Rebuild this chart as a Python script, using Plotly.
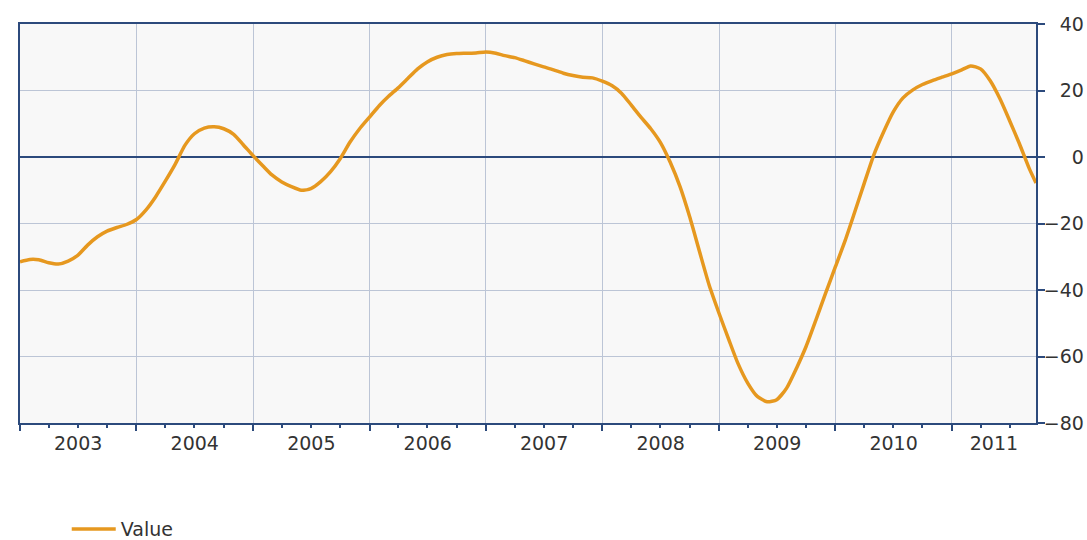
import plotly.graph_objects as go
import pandas as pd

# ---- data (monthly) ----
start_month = "2003-01-01"
values = [
    # 2003
    -31.5, -30.8, -30.9, -31.8, -32.2, -31.3, -29.6, -26.5, -24.0, -22.3, -21.2, -20.3,
    # 2004
    -18.8, -15.8, -12.0, -7.2, -2.3, 3.5, 7.0, 8.7, 9.1, 8.5, 6.8, 3.7,
    # 2005
    0.4, -2.7, -5.4, -7.5, -8.9, -10.0, -9.5, -7.4, -4.4, -0.5, 4.5, 8.5,
    # 2006
    12.0, 15.5, 18.2, 20.8, 23.6, 26.5, 28.6, 30.0, 30.8, 31.1, 31.2, 31.3,
    # 2007
    31.6, 31.2, 30.5, 29.9, 29.0, 28.0, 27.1, 26.2, 25.2, 24.5, 24.0, 23.8,
    # 2008
    22.8, 21.4, 19.2, 15.6, 12.0, 8.5, 4.4, -1.6, -9.0, -18.0, -28.5, -38.5,
    # 2009
    -47.0, -55.0, -62.0, -68.0, -72.0, -73.6, -73.0, -69.5, -63.5, -57.0, -49.0, -41.0,
    # 2010
    -33.0, -25.0, -17.0, -8.0, 0.5, 7.5, 13.5, 17.8, 20.2, 21.8, 23.0, 24.0,
    # 2011
    25.0, 26.2, 27.4, 26.5, 23.0, 17.5, 11.0, 4.0, -3.5,
]
last_date = "2011-09-22"
last_value = -7.8

years = ["2003", "2004", "2005", "2006", "2007", "2008", "2009", "2010", "2011"]
y_ticks = [-80, -60, -40, -20, 0, 20, 40]

dates = list(pd.date_range(start_month, periods=len(values), freq="MS")) + [pd.Timestamp(last_date)]
vals = values + [last_value]

# ---- styling ----
NAVY = "#2c4a7c"
GRID = "#bcc5d6"
ORANGE = "#e6981f"
TXT = "#333333"
FONT = "DejaVu Sans"

x_start = pd.Timestamp(start_month)
x_end = pd.Timestamp(last_date)

# year label positions: middle of each year's visible span
label_pos = []
for y in years:
    a = max(pd.Timestamp(f"{y}-01-01"), x_start)
    b = min(pd.Timestamp(f"{int(y)+1}-01-01"), x_end)
    label_pos.append(a + (b - a) / 2)

# right-aligned y tick text (pad with figure/thin spaces to match minus width)
def pad(v):
    s = str(abs(v))
    if v < 0:
        return "\u2212" + s
    digits_missing = 2 - len(s)
    return "\u2007" * digits_missing + "\u2007\u2009" + s

y_text = [pad(v) for v in y_ticks]

fig = go.Figure()
fig.add_trace(go.Scatter(
    x=dates, y=vals, mode="lines", name="Value",
    line=dict(color=ORANGE, width=3.5, shape="spline", smoothing=0.6),
))
# invisible carrier trace so the label axis is drawn
fig.add_trace(go.Scatter(
    x=dates, y=vals, mode="lines", xaxis="x2", yaxis="y",
    line=dict(width=0), opacity=0, showlegend=False, hoverinfo="skip",
))

fig.update_layout(
    width=1087, height=540,
    margin=dict(l=20, r=51, t=24, b=117, autoexpand=False),
    paper_bgcolor="white",
    plot_bgcolor="#f8f8f8",
    font=dict(family=FONT, size=19, color=TXT),
    showlegend=True,
    legend=dict(
        orientation="h", x=0.046, xanchor="left", y=-0.266, yanchor="middle",
        font=dict(family=FONT, size=19, color=TXT), itemwidth=44,
        bgcolor="rgba(0,0,0,0)",
    ),
    xaxis=dict(
        type="date", range=[x_start, x_end], automargin=False,
        tick0=start_month, dtick="M12",
        showticklabels=False,
        ticks="outside", ticklen=6, tickwidth=1.5, tickcolor=NAVY,
        showgrid=True, gridcolor=GRID, gridwidth=1,
        showline=True, linecolor=NAVY, linewidth=2, mirror=True,
        minor=dict(dtick="M3", tick0=start_month, ticks="outside", ticklen=3,
                   tickcolor=NAVY, tickwidth=1.5, showgrid=False),
        zeroline=False,
    ),
    xaxis2=dict(
        type="date", overlaying="x", anchor="y", side="bottom",
        range=[x_start, x_end], automargin=False,
        tickmode="array", tickvals=label_pos, ticktext=years,
        ticks="outside", ticklen=3, tickcolor="rgba(0,0,0,0)",
        showgrid=False, showline=False, zeroline=False,
        tickfont=dict(family=FONT, size=19, color=TXT),
    ),
    yaxis=dict(
        side="right", range=[-80, 40], automargin=False,
        tickmode="array", tickvals=y_ticks, ticktext=y_text,
        ticks="outside", ticklen=7, tickwidth=1.5, tickcolor=NAVY,
        ticklabelstandoff=-5,
        showgrid=True, gridcolor=GRID, gridwidth=1,
        showline=True, linecolor=NAVY, linewidth=2, mirror=True,
        zeroline=True, zerolinecolor=NAVY, zerolinewidth=2,
        tickfont=dict(family=FONT, size=19, color=TXT),
    ),
)

fig.write_html("out.html", config={"displayModeBar": False},
               post_script="document.body.style.margin='0';")
